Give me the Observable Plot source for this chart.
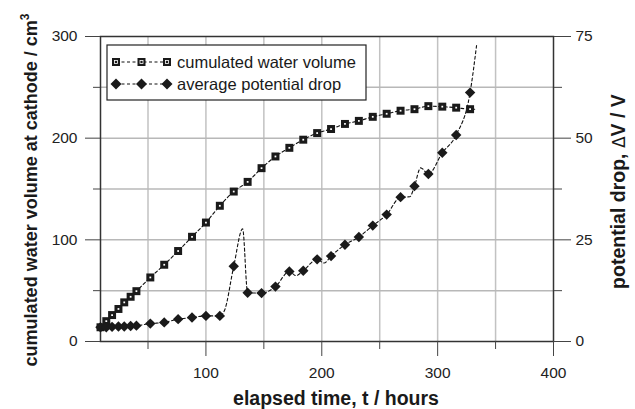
<!DOCTYPE html>
<html><head><meta charset="utf-8">
<script src="https://cdn.jsdelivr.net/npm/d3@7"></script>
<script src="https://cdn.jsdelivr.net/npm/@observablehq/plot@0.6"></script>
<style>body{margin:0;background:#fff} svg{display:block}</style>
</head><body><div id="chart"></div>
<script>
// ---- data ----
const hours = [9,14,19,24.5,29.5,35,40,52,64,76,88,100,112,124,136,148,160,172,184,196,208,220,232,244,256,268,280,292,304,316,328];
const waterVolume = [14,20,26,32,38.5,44,49.5,63,75.5,89,103,117,133.5,147.5,157,170.5,182,190.5,198.5,205,209,214,217,221,224,227,228.5,231.5,231,230,228.5];
const potentialDrop = [3.5,3.5,3.6,3.7,3.7,3.8,3.9,4.4,4.7,5.5,5.9,6.3,6.3,18.5,12.0,11.9,13.5,17.2,17.4,20.2,21.0,23.8,25.7,28.5,31.2,35.5,38.2,41.2,46.4,50.8,61.2];
// dashed trace vertices (include unmarked points of the trace)
const volumeTraceHours = [9,14,19,24.5,29.5,35,40,52,64,76,88,100,112,124,136,148,160,172,184,196,208,220,232,244,256,268,280,292,304,316,328,333.5];
const volumeTrace = [14,20,26,32,38.5,44,49.5,63,75.5,89,103,117,133.5,147.5,157,170.5,182,190.5,198.5,205,209,214,217,221,224,227,228.5,231.5,231,230,228.5,228.5];
const potentialTraceHours = [9,14,19,24,29,34,40,52,64,76,88,100,112,116,124,131.7,136,148,160,172,177.8,184,196,202,208,220,232,244,256,268,276,280,285.3,292,304,316,328,333.6];
const potentialTrace = [3.5,3.5,3.6,3.7,3.7,3.8,3.9,4.4,4.7,5.5,5.9,6.3,6.3,7.6,18.5,27.7,12.0,11.9,13.5,17.2,16.2,17.4,20.2,19.3,21.0,23.8,25.7,28.5,31.2,35.5,35.6,38.2,42.7,41.2,46.4,50.8,61.2,72.8];
// axis ticks
const xMajor = [100,200,300,400];
const xMinor = [50,150,250,350];
const xGrid = [50,100,150,200,250,300,350];
const yMajor = [0,100,200,300];
const yMinor = [50,150,250];
const yGrid = [50,100,150,200,250];
const rightFactor = 300 / 75; // right axis (0–75 V) shares the left pixel range (0–300 cm³)

const font = "'Liberation Sans', Arial, Helvetica, sans-serif";
const volData = hours.map((t, i) => ({t, v: waterVolume[i]}));
const potData = hours.map((t, i) => ({t, v: potentialDrop[i] * rightFactor}));
const volTrace = volumeTraceHours.map((t, i) => ({t, v: volumeTrace[i]}));
const potTrace = potentialTraceHours.map((t, i) => ({t, v: potentialTrace[i] * rightFactor}));

const plot = Plot.plot({
  width: 635, height: 409,
  marginLeft: 100, marginRight: 82, marginTop: 36, marginBottom: 68,
  style: {fontFamily: font, fontSize: "15.5px", color: "#222", background: "#fff"},
  x: {domain: [9, 400]},
  y: {domain: [0, 300]},
  marks: [
    Plot.ruleX(xGrid, {stroke: "#c2c2c2", strokeWidth: 1.5}),
    Plot.ruleY(yGrid, {stroke: "#b8b8b8", strokeWidth: 1.5}),
    Plot.frame({stroke: "#333", strokeWidth: 1.5}),
    Plot.axisX({ticks: xMajor, tickSize: 15, tickPadding: 10, label: null, stroke: "#444"}),
    Plot.axisX({ticks: xMinor, tickSize: 8, tickFormat: () => "", label: null, stroke: "#444"}),
    Plot.axisY({ticks: yMajor, tickSize: 15, tickPadding: 8, label: null, stroke: "#444"}),
    Plot.axisY({ticks: yMinor, tickSize: 7, tickFormat: () => "", label: null, stroke: "#444"}),
    Plot.axisY({anchor: "right", ticks: yMajor, tickSize: 17, tickPadding: 5, tickFormat: d => d / rightFactor, label: null, stroke: "#444"}),
    Plot.axisY({anchor: "right", ticks: yMinor, tickSize: 8, tickFormat: () => "", label: null, stroke: "#444"}),
    Plot.line(volTrace, {x: "t", y: "v", curve: "monotone-x", stroke: "#111", strokeWidth: 1.1, strokeDasharray: "3,2.5"}),
    Plot.line(potTrace, {x: "t", y: "v", curve: "monotone-x", stroke: "#111", strokeWidth: 1.1, strokeDasharray: "3,2.5"}),
    Plot.dot(volData, {x: "t", y: "v", symbol: "square", r: 4.5, fill: "#1a1a1a", stroke: "none"}),
    Plot.dot(volData, {x: "t", y: "v", symbol: "square", r: 1, fill: "#fff", stroke: "none"}),
    Plot.dot(potData, {x: "t", y: "v", symbol: "diamond2", r: 4.7, fill: "#1a1a1a", stroke: "none"})
  ]
});
document.getElementById("chart").appendChild(plot);

// ---- axis titles and legend ----
const svg = d3.select(plot);
const left = svg.append("text")
  .attr("transform", "translate(37,190) rotate(-90)")
  .attr("text-anchor", "middle").attr("font-family", font).attr("font-size", 18)
  .attr("font-weight", "bold").attr("fill", "#1a1a1a");
left.append("tspan").text("cumulated water volume at cathode / cm");
left.append("tspan").attr("font-size", 12).attr("dy", -8).text("3");

const right = svg.append("text")
  .attr("transform", "translate(625,191.5) rotate(-90)")
  .attr("text-anchor", "middle").attr("font-family", font).attr("font-size", 19.5)
  .attr("font-weight", "bold").attr("fill", "#1a1a1a");
right.append("tspan").text("potential drop, ");
right.append("tspan").attr("font-weight", "normal").attr("font-family", "'DejaVu Sans', sans-serif").attr("font-size", 17).text("\u0394");
right.append("tspan").text("V / V");

svg.append("text").attr("x", 336).attr("y", 405)
  .attr("text-anchor", "middle").attr("font-family", font).attr("font-size", 19.5)
  .attr("font-weight", "bold").attr("fill", "#1a1a1a").text("elapsed time, t / hours");

const legendItems = [
  {label: "cumulated water volume", sym: "square"},
  {label: "average potential drop", sym: "diamond"}
];
const lg = svg.append("g");
lg.append("rect").attr("x", 107).attr("y", 45).attr("width", 259).attr("height", 55)
  .attr("fill", "#fff").attr("stroke", "#222").attr("stroke-width", 1.2);
legendItems.forEach((it, i) => {
  const y = 62 + i * 22;
  lg.append("line").attr("x1", 116).attr("x2", 167).attr("y1", y).attr("y2", y)
    .attr("stroke", "#111").attr("stroke-width", 1.1).attr("stroke-dasharray", "3,2.5");
  [116, 141.5, 167].forEach(cx => {
    if (it.sym === "square") {
      lg.append("rect").attr("x", cx - 4).attr("y", y - 4).attr("width", 8).attr("height", 8).attr("fill", "#1a1a1a");
      lg.append("rect").attr("x", cx - 1.5).attr("y", y - 1.5).attr("width", 3).attr("height", 3).attr("fill", "none").attr("stroke", "#fff").attr("stroke-width", 0.8);
    } else {
      lg.append("path").attr("d", `M${cx},${y - 5.5}L${cx + 5.5},${y}L${cx},${y + 5.5}L${cx - 5.5},${y}Z`).attr("fill", "#1a1a1a");
    }
  });
  lg.append("text").attr("x", 177).attr("y", y).attr("dy", "0.35em").attr("text-anchor", "start")
    .attr("font-family", font).attr("font-size", 16.5).attr("fill", "#1a1a1a").text(it.label);
});
</script>
</body></html>
